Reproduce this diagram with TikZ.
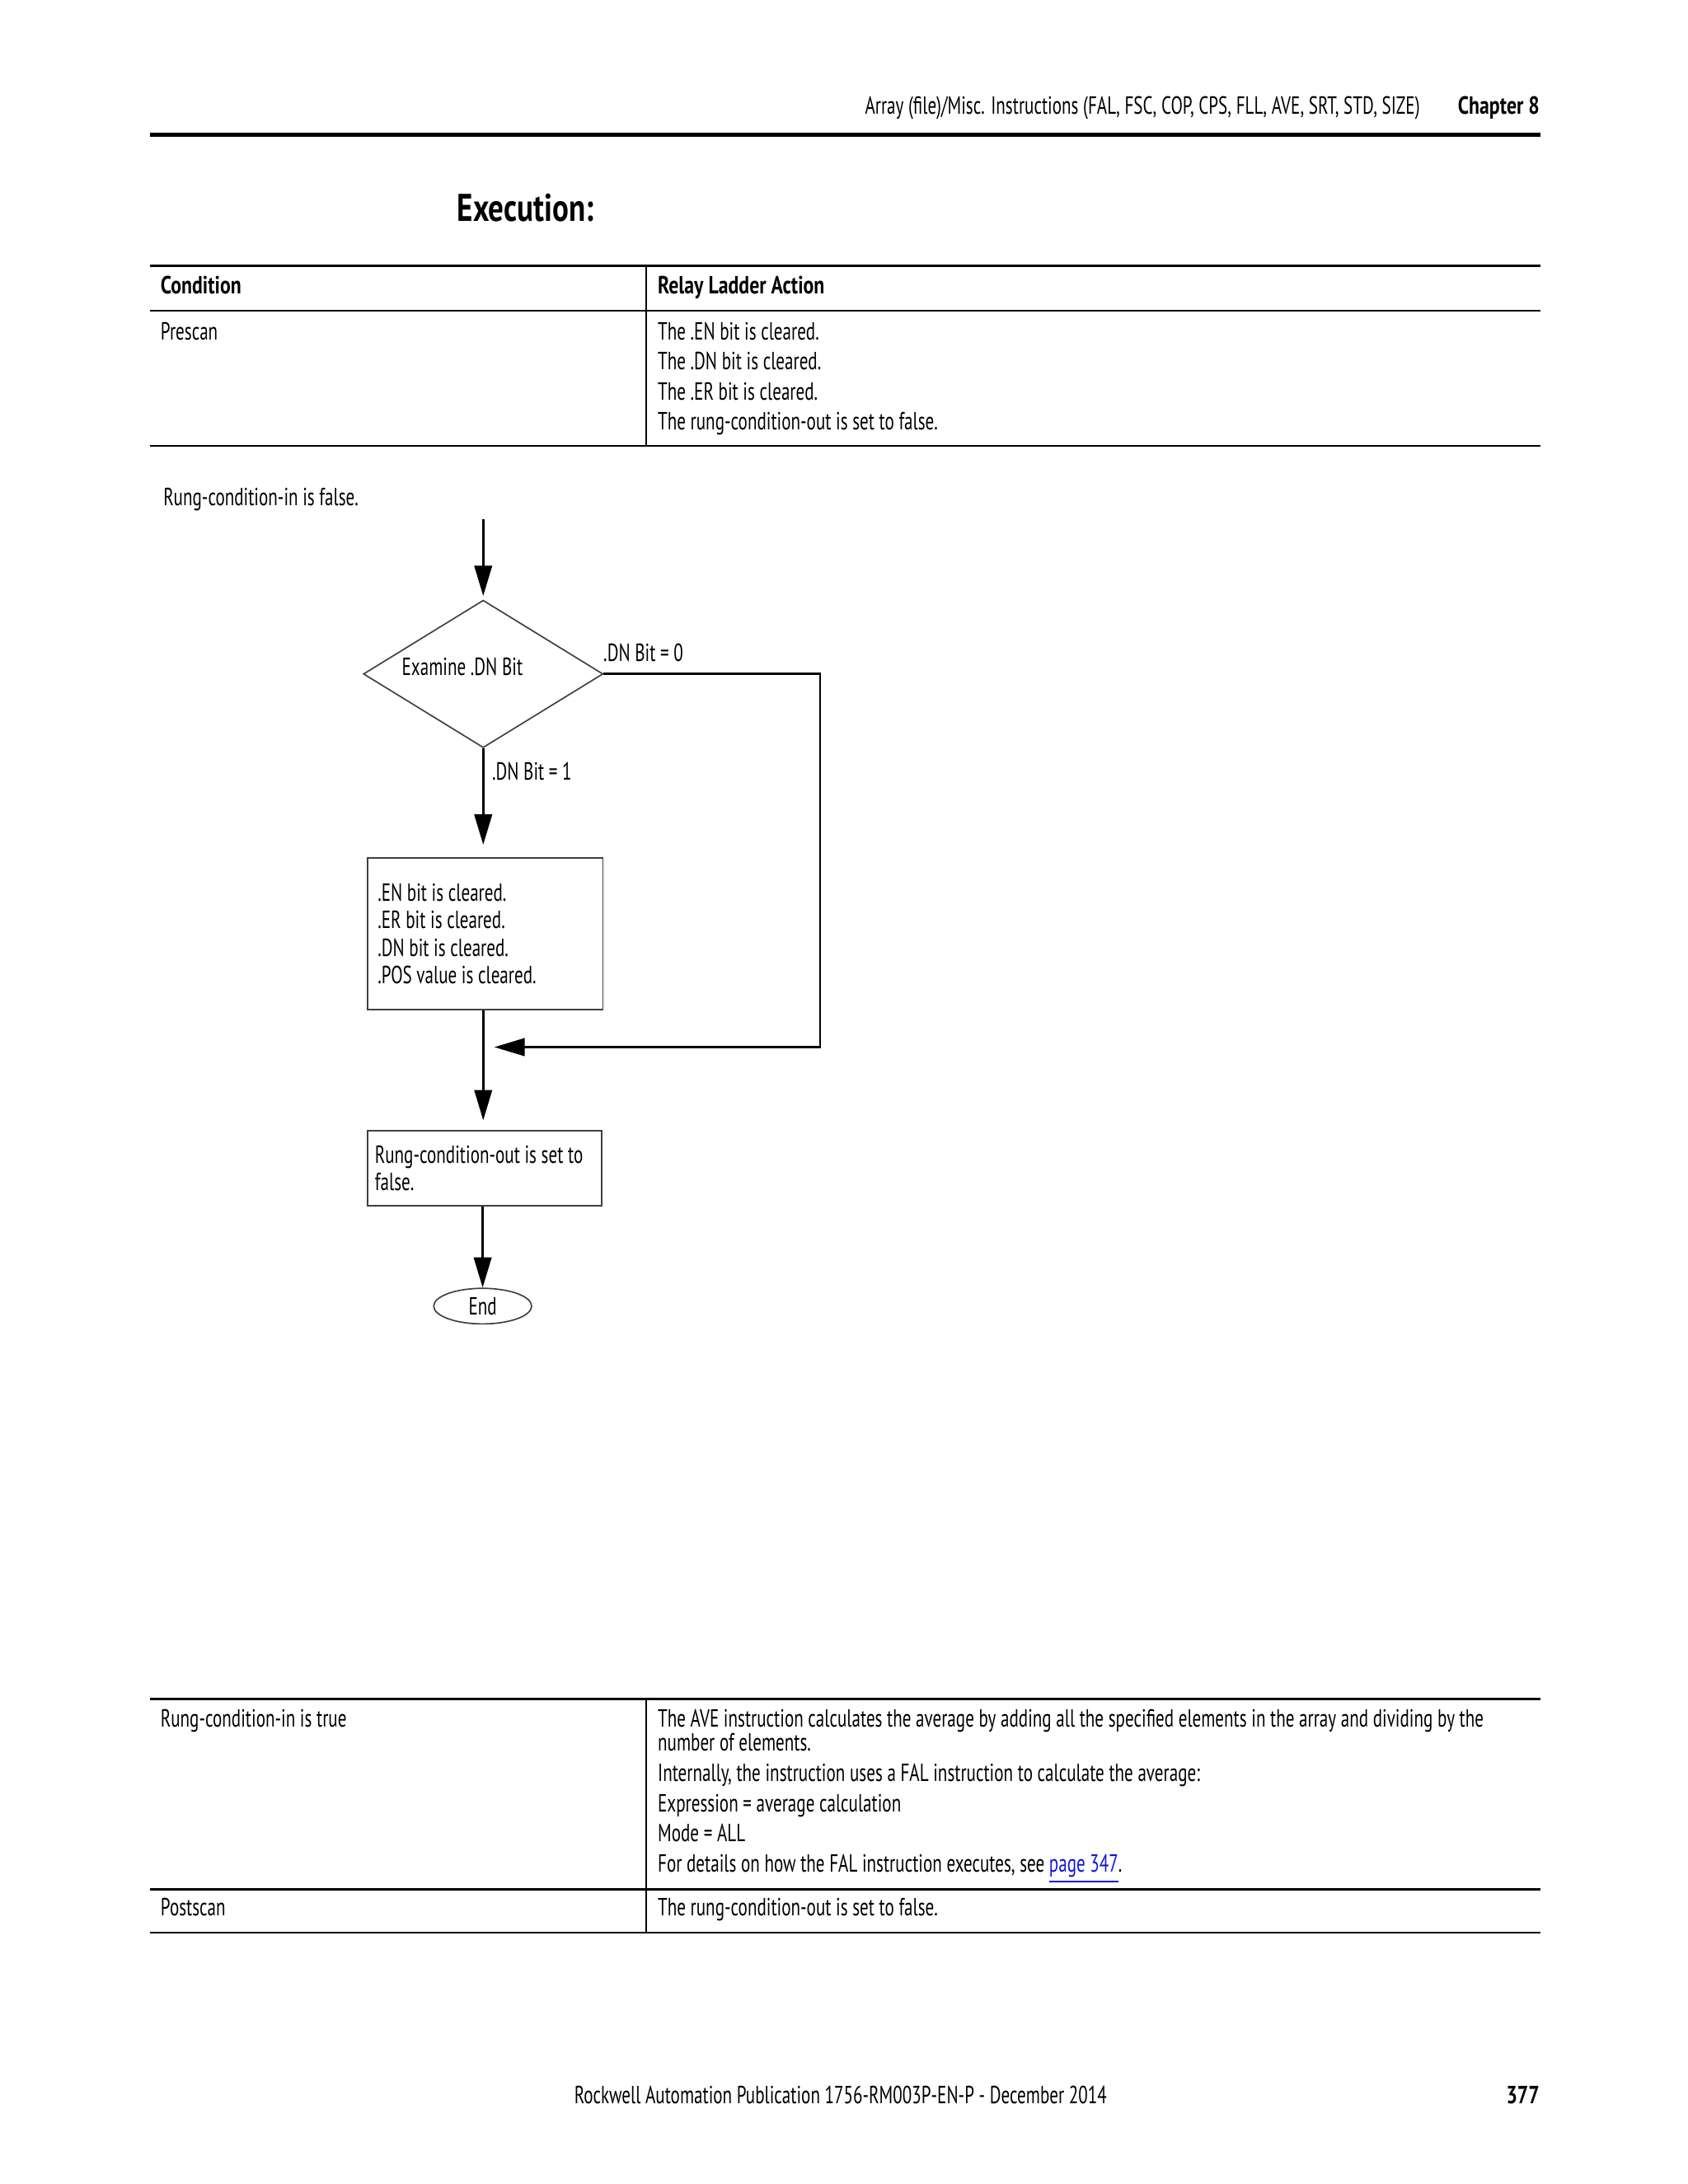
\documentclass[tikz,border=0pt]{standalone}
\usepackage{fontspec}
\setmainfont{PT Sans}[FakeStretch=0.70]
\newfontfamily\boldfnt{PT Sans}[FakeStretch=0.79]
\usetikzlibrary{arrows.meta,shapes.geometric}
\definecolor{linkblue}{RGB}{20,20,220}
\begin{document}
\begin{tikzpicture}[x=1.0099pt,y=-1.0099pt,
  txt/.style={anchor=base west, inner sep=0, font=\fontsize{9}{10}\selectfont},
  txtb/.style={txt, font=\boldfnt\bfseries\fontsize{9}{10}\selectfont},
  shape line/.style={draw=black!75, line width=0.5pt},
  flow/.style={line width=0.8pt, -{Triangle[length=11pt,width=6.4pt]}},
  rule/.style={line width=0.6pt}
]
\fill[white] (0,0) rectangle (606.0,784.24);
\useasboundingbox (0,0) rectangle (606.0,784.24);

% header
\node[txt, anchor=base east] (hdr) at (510,41) {Array (file)/Misc. Instructions (FAL, FSC, COP, CPS, FLL, AVE, SRT, STD, SIZE)};
\node[txtb, anchor=base east] (chap) at (553,41) {Chapter 8};
\draw[line width=1.5pt] (54,48.5) -- (553,48.5);

\node[anchor=base west, inner sep=0, font=\boldfnt\bfseries\fontsize{14}{16}\selectfont] (exec) at (164,79.5) {Execution:};

% table 1
\draw[line width=1pt] (54,95.5) -- (553,95.5);
\draw[rule] (54,111.5) -- (553,111.5);
\draw[rule] (54,160) -- (553,160);
\draw[rule] (232,95.5) -- (232,160);
\node[txtb] (th1) at (57.5,105.5) {Condition};
\node[txtb] (th2) at (236,105.5) {Relay Ladder Action};
\node[txt] (pre) at (57.5,122) {Prescan};
\node[txt] (pre1) at (236,122) {The .EN bit is cleared.};
\node[txt] (pre2) at (236,132.8) {The .DN bit is cleared.};
\node[txt] (pre3) at (236,143.6) {The .ER bit is cleared.};
\node[txt] (pre4) at (236,154.4) {The rung-condition-out is set to false.};

% flowchart
\node[txt] (rcf) at (58.5,181.5) {Rung-condition-in is false.};
\coordinate (start) at (173.5,186.5);
\node[diamond, shape line, minimum width=86.9pt, minimum height=53.5pt, inner sep=0] (dia) at (173.5,242) {};
\node[inner sep=0, font=\fontsize{9}{10}\selectfont] (dtext) at (166,239.5) {Examine .DN Bit};
\node[txt] (l0) at (216.5,237.5) {.DN Bit = 0};
\node[txt] (l1) at (176.5,280) {.DN Bit = 1};
\node[rectangle, shape line, minimum width=85.3pt, minimum height=55pt, inner xsep=3.5pt, inner ysep=0, text width=78pt, align=flush left, font=\fontsize{9}{10}\selectfont] (b1) at (174.25,335.25) {.EN bit is cleared.\\.ER bit is cleared.\\.DN bit is cleared.\\.POS value is cleared.};
\node[rectangle, shape line, minimum width=84.8pt, minimum height=27.3pt, inner xsep=2.5pt, inner ysep=0, text width=79.5pt, align=flush left, font=\fontsize{9}{10}\selectfont] (b2) at (174,419.5) {Rung-condition-out is set to\\false.};
\node[ellipse, shape line, minimum width=35.5pt, minimum height=12.9pt, inner sep=0, font=\fontsize{9}{10}\selectfont] (end) at (173.3,469) {End};
\coordinate (rc) at (294.5,242);
\coordinate (rb) at (294.5,376);
\coordinate (join) at (177.5,376);

\draw[flow, shorten >=1.3pt] (start) -- (dia.north);
\draw[flow, shorten >=4.5pt] (dia.south) -- (dia.south |- b1.north);
\draw[flow] (dia.east) -- (rc) -- (rb) -- (join);
\draw[flow, shorten >=3.5pt] (b1.south -| dia.south) -- (b2.north -| dia.south);
\draw[flow] (b2.south -| end.north) -- (end.north);

% table 2
\draw[line width=0.8pt] (54,610) -- (553,610);
\draw[line width=0.8pt] (54,678.5) -- (553,678.5);
\draw[line width=0.8pt] (54,694) -- (553,694);
\draw[rule] (232,610) -- (232,694);
\node[txt] (rct) at (57.5,620) {Rung-condition-in is true};
\node[txt] (t1) at (236,620) {The AVE instruction calculates the average by adding all the specified elements in the array and dividing by the};
\node[txt] (t2) at (236,628.7) {number of elements.};
\node[txt] (t3) at (236,639.6) {Internally, the instruction uses a FAL instruction to calculate the average:};
\node[txt] (t4) at (236,650.5) {Expression = average calculation};
\node[txt] (t5) at (236,661.4) {Mode = ALL};
\node[txt] (t6) at (236,672.3) {For details on how the FAL instruction executes, see {\color{linkblue}\underline{page 347}}.};
\node[txt] (post) at (57.5,688) {Postscan};
\node[txt] (post1) at (236,688) {The rung-condition-out is set to false.};

% footer
\node[txt] (foot) at (206,755.5) {Rockwell Automation Publication 1756-RM003P-EN-P - December 2014};
\node[txtb, anchor=base east] (pg) at (553,755.5) {377};
\end{tikzpicture}
\end{document}
